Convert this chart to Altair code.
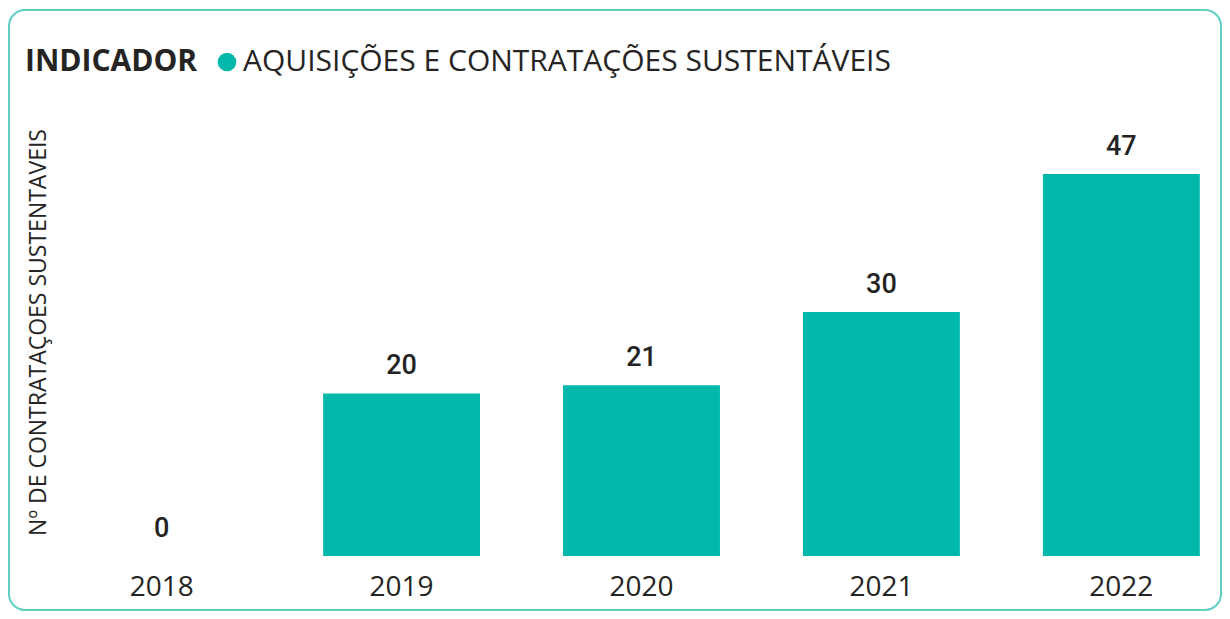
import altair as alt
import pandas as pd

anos = ["2018", "2019", "2020", "2021", "2022"]
valores = [0, 20, 21, 30, 47]
indicador = ["AQUISIÇÕES E CONTRATAÇÕES SUSTENTÁVEIS"] * len(anos)

df = pd.DataFrame({"ano": anos, "valor": valores, "indicador": indicador})
frame_df = pd.DataFrame({"f": [0]})

TEAL = "#01B8AA"
DARK = "#252423"

base = alt.Chart(df)

x_enc = alt.X(
    "ano:N",
    sort=anos,
    scale=alt.Scale(paddingInner=0.346, paddingOuter=0.08),
    axis=alt.Axis(
        title=None,
        labelAngle=0,
        ticks=False,
        domain=False,
        grid=False,
        labelFont="Open Sans",
        labelFontSize=28,
        labelColor=DARK,
        labelPadding=39,
        labelBaseline="alphabetic",
    ),
)
y_enc = alt.Y(
    "valor:Q",
    scale=alt.Scale(domain=[0, 52.4], nice=False, zero=True),
    axis=alt.Axis(
        title="Nº DE CONTRATAÇOES SUSTENTAVEIS",
        labels=False,
        ticks=False,
        domain=False,
        grid=False,
        titleFont="Open Sans",
        titleFontSize=23,
        titleFontWeight="normal",
        titleColor=DARK,
        titleAngle=-90,
        titleAlign="center",
        titleBaseline="middle",
        titleX=-26,
        titleY=202,
    ),
)

bars = base.mark_bar(color=TEAL).encode(
    x=x_enc,
    y=y_enc,
    color=alt.Color(
        "indicador:N",
        scale=alt.Scale(range=[TEAL]),
        legend=alt.Legend(
            title="INDICADOR",
            orient="none",
            legendX=-39,
            legendY=-83,
            direction="horizontal",
            titleOrient="left",
            titleFont="Open Sans",
            titleFontSize=30,
            titleFontWeight="bold",
            titleColor=DARK,
            titlePadding=14,
            titleBaseline="middle",
            labelFont="Open Sans",
            labelFontSize=30,
            labelColor=DARK,
            labelOffset=1,
            labelLimit=1000,
            symbolType="circle",
            symbolSize=346,
            symbolStrokeWidth=0,
            symbolOpacity=1,
            padding=0,
        ),
    ),
)

labels = base.mark_text(
    font="Roboto",
    fontSize=27,
    fontWeight=500,
    color=DARK,
    baseline="alphabetic",
    dy=-19,
).encode(
    x=alt.X("ano:N", sort=anos),
    y=alt.Y("valor:Q"),
    text=alt.Text("valor:Q"),
)

frame = alt.Chart(frame_df).mark_rect(
    fill="transparent",
    stroke="#5ECFC2",
    strokeWidth=2,
    cornerRadius=16,
).encode(
    x=alt.value(-55),
    x2=alt.value(1157),
    y=alt.value(-120),
    y2=alt.value(480),
)

chart = (
    alt.layer(frame, bars, labels)
    .properties(
        width=1155,
        height=426,
        autosize=alt.AutoSizeParams(type="none"),
        padding={"left": 56, "top": 122, "right": 3, "bottom": 55},
        background="white",
    )
    .configure_view(stroke=None)
)

chart.save("out.html", embed_options={"renderer": "svg", "actions": False})
